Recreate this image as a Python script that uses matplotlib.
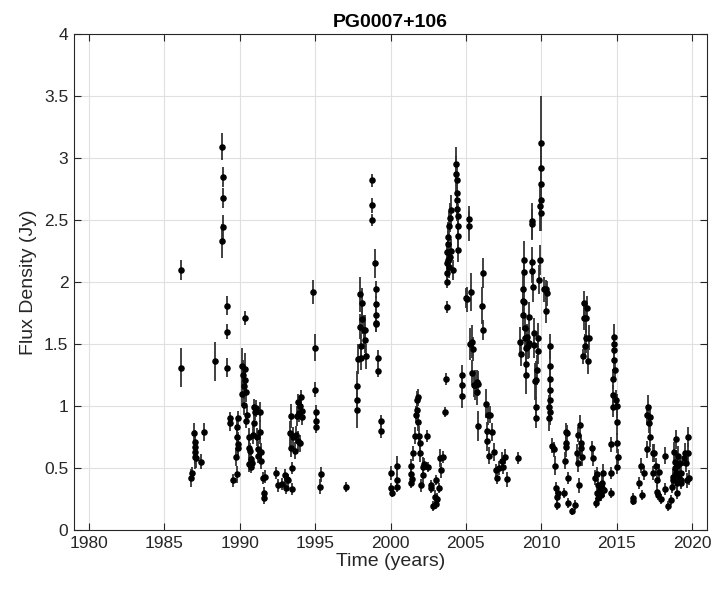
import matplotlib
matplotlib.use("Agg")
import matplotlib.pyplot as plt
from matplotlib.ticker import FuncFormatter

title = "PG0007+106"
x_label = "Time (years)"
y_label = "Flux Density (Jy)"
x_ticks = [1980, 1985, 1990, 1995, 2000, 2005, 2010, 2015, 2020]
y_ticks = [0, 0.5, 1, 1.5, 2, 2.5, 3, 3.5, 4]

# observation epochs (decimal years)
years = [
    1986.13, 1986.09, 1986.78, 1986.80, 1986.98, 1987.00, 1987.03, 1987.06, 1987.05, 1987.08, 1987.42, 1987.62,
    1988.37, 1988.85, 1988.87, 1988.89, 1988.90, 1988.84, 1989.15, 1989.13, 1989.17, 1989.36, 1989.36, 1989.53,
    1989.82, 1989.78, 1989.82, 1989.86, 1989.84, 1989.88, 1989.90,
    1990.14, 1990.20, 1990.25, 1990.17, 1990.30, 1990.37, 1990.37, 1990.44, 1990.46, 1990.44, 1990.37,
    1990.58, 1990.62, 1990.62, 1990.73, 1990.75, 1990.82, 1990.68, 1990.88, 1990.93, 1990.95, 1990.99, 1991.08,
    1991.13, 1991.20, 1991.24, 1991.33, 1991.37, 1991.40, 1991.42, 1991.52, 1991.58, 1991.63, 1991.70,
    1992.40, 1992.55, 1992.77, 1992.97, 1993.08, 1993.19, 1993.44, 1993.11,
    1993.33, 1993.42, 1993.40, 1993.46, 1993.55, 1993.64, 1993.73, 1993.77, 1993.84, 1993.88, 1993.95, 1993.99,
    1994.06, 1994.10, 1994.10, 1994.01,
    1994.88, 1995.00, 1995.02, 1995.03, 1995.05, 1995.04, 1995.35, 1995.40, 1997.05,
    1997.76, 1997.78, 1997.80, 1997.96, 1998.09, 1998.00, 1998.07, 1997.87, 1998.04, 1998.24, 1998.33, 1998.33,
    1998.35, 1998.13,
    1998.80, 1998.80, 1998.80, 1999.00, 1999.02, 1999.02, 1999.02, 1999.04, 1999.06, 1999.15, 1999.15,
    1999.37, 1999.37,
    2000.00, 2000.00, 2000.09, 2000.40, 2000.40, 2000.44,
    2001.35, 2001.37, 2001.40, 2001.37, 2001.48, 2001.64, 2001.68, 2001.73, 2001.77, 2001.82, 2001.84, 2001.88,
    2001.95, 2001.99, 2002.04, 2002.13, 2002.13, 2002.22, 2002.41, 2002.46,
    2002.66, 2002.70, 2002.81, 2002.92, 2002.99, 2003.03, 2003.08, 2003.21, 2003.30, 2003.37, 2003.46,
    2003.61, 2003.68,
    2003.74, 2003.72, 2003.74, 2003.74, 2003.77, 2003.79, 2003.83, 2003.88, 2003.92, 2003.99, 2003.81, 2003.88,
    2003.97, 2004.04, 2004.12, 2004.32, 2004.36, 2004.39, 2004.39, 2004.41, 2004.43, 2004.45, 2004.47, 2004.50,
    2004.50,
    2004.72, 2004.72, 2004.72, 2005.03, 2005.08, 2005.20, 2005.22, 2005.34,
    2005.27, 2005.42, 2005.46, 2005.40, 2005.51, 2005.62, 2005.75, 2005.82, 2005.75, 2005.82,
    2006.09, 2006.17, 2006.13,
    2006.36, 2006.49, 2006.62, 2006.40, 2006.40, 2006.53, 2006.76, 2006.87, 2007.02, 2007.07, 2007.20, 2007.38,
    2007.49, 2007.62, 2007.75, 2008.44,
    2008.62, 2008.64, 2008.79, 2008.79, 2008.81, 2008.83, 2008.83, 2008.85, 2008.90, 2008.95, 2008.97, 2009.02,
    2009.02, 2009.06, 2009.10, 2009.19, 2009.19,
    2009.37, 2009.39, 2009.39, 2009.41, 2009.46, 2009.50, 2009.52, 2009.59, 2009.63, 2009.66, 2009.68, 2009.72,
    2009.79, 2009.81, 2009.88, 2009.90, 2009.95, 2009.97, 2009.97, 2010.01, 2009.99, 2009.99, 2010.19, 2010.30,
    2010.37, 2010.35,
    2010.52, 2010.50, 2010.56, 2010.61, 2010.56, 2010.61, 2010.58, 2010.61,
    2010.74, 2010.83, 2010.90, 2010.96, 2011.05, 2011.05, 2011.12,
    2011.50, 2011.58, 2011.63, 2011.63, 2011.67, 2011.72, 2011.76, 2011.78,
    2012.03, 2012.25, 2012.38, 2012.45, 2012.53, 2012.56, 2012.47, 2012.67, 2012.72, 2012.62,
    2012.82, 2012.84, 2012.95, 2013.00, 2013.04, 2013.16, 2013.13, 2012.78, 2012.89,
    2013.40, 2013.45, 2013.55, 2013.62, 2013.67, 2013.74, 2013.89, 2014.00, 2014.11, 2014.17,
    2013.80, 2013.95, 2014.05, 2013.70,
    2014.62, 2014.66, 2014.66,
    2014.82, 2014.86, 2014.86, 2014.88, 2014.77, 2014.73, 2014.75, 2015.00, 2015.00, 2015.04, 2015.08, 2015.04,
    2014.86, 2014.95,
    2016.10, 2016.12, 2016.48, 2016.65, 2016.70, 2016.83, 2016.99, 2016.99, 2017.08, 2017.14, 2017.21, 2017.23,
    2017.39, 2017.43, 2017.50, 2017.59, 2017.65, 2017.67, 2017.76, 2017.83, 2017.92,
    2018.21, 2018.21, 2018.43, 2018.58, 2018.65, 2018.72, 2018.76, 2018.83, 2018.87, 2018.92, 2018.98, 2019.03,
    2019.12, 2019.21, 2019.25, 2019.53, 2019.60, 2019.65, 2019.71, 2019.76, 2019.78,
    2018.95, 2019.00, 2019.30, 2019.45, 2019.30, 2018.90, 2019.10,
]

# flux density (Jy)
flux = [
    2.10, 1.31, 0.42, 0.46, 0.78, 0.63, 0.59, 0.71, 0.67, 0.58, 0.55, 0.79,
    1.36, 3.09, 2.85, 2.68, 2.44, 2.33, 1.81, 1.60, 1.31, 0.90, 0.86, 0.40,
    0.45, 0.59, 0.75, 0.69, 0.83, 0.90, 0.66,
    1.32, 1.25, 1.16, 1.10, 1.01, 1.30, 1.21, 1.11, 0.93, 0.88, 1.71,
    0.75, 0.66, 0.53, 0.57, 0.51, 0.54, 0.64, 0.77, 0.86, 0.99, 0.95, 0.98,
    0.75, 0.65, 0.60, 0.79, 0.95, 0.63, 0.56, 0.42, 0.30, 0.26, 0.43,
    0.46, 0.36, 0.37, 0.44, 0.34, 0.40, 0.33, 0.41,
    0.78, 0.92, 0.66, 0.50, 0.75, 0.64, 0.77, 0.92, 1.03, 0.72, 0.94, 1.00,
    1.07, 0.91, 0.96, 0.70,
    1.92, 1.47, 1.13, 0.95, 0.88, 0.83, 0.35, 0.45, 0.35,
    1.16, 1.05, 0.97, 1.90, 1.83, 1.64, 1.48, 1.38, 1.39, 1.61, 1.61, 1.53,
    1.40, 1.70,
    2.82, 2.62, 2.50, 2.15, 1.94, 1.82, 1.73, 1.67, 1.66, 1.39, 1.28,
    0.88, 0.80,
    0.46, 0.34, 0.30, 0.52, 0.40, 0.35,
    0.52, 0.45, 0.41, 0.38, 0.62, 0.76, 0.93, 0.97, 1.05, 0.87, 1.07, 0.76,
    0.70, 0.62, 0.36, 0.51, 0.44, 0.53, 0.76, 0.51,
    0.34, 0.36, 0.19, 0.27, 0.40, 0.21, 0.25, 0.34, 0.58, 0.48, 0.59,
    0.95, 1.22,
    1.80, 2.00, 2.07, 2.15, 2.24, 2.31, 2.36, 2.45, 2.52, 2.58, 2.18, 2.12,
    2.20, 2.25, 2.10, 2.95, 2.87, 2.82, 2.72, 2.66, 2.59, 2.53, 2.45, 2.37,
    2.26,
    1.25, 1.17, 1.08, 1.87, 1.86, 2.51, 2.45, 1.92,
    1.50, 1.52, 1.46, 1.27, 1.17, 1.17, 1.19, 1.18, 1.11, 0.84,
    1.81, 2.07, 1.61,
    1.02, 0.93, 0.93, 0.80, 0.72, 0.60, 0.79, 0.63, 0.48, 0.42, 0.50, 0.56,
    0.51, 0.59, 0.41, 0.58,
    1.52, 1.42, 1.73, 1.85, 1.94, 2.08, 2.18, 1.84, 1.63, 1.55, 1.47, 1.34,
    1.25, 1.56, 1.48, 1.72, 1.51,
    2.49, 2.47, 2.16, 2.09, 1.96, 1.59, 1.49, 1.20, 0.99, 0.90, 1.21, 1.29,
    1.55, 1.44, 2.02, 2.18, 2.61, 2.56, 2.66, 2.79, 2.92, 3.12, 1.94, 1.94,
    1.91, 1.77,
    0.90, 0.99, 1.05, 1.13, 1.22, 1.48, 1.32, 0.95,
    0.68, 0.65, 0.52, 0.34, 0.27, 0.20, 0.30,
    0.30, 0.56, 0.70, 0.79, 0.67, 0.78, 0.42, 0.22,
    0.15, 0.20, 0.62, 0.77, 0.36, 0.85, 0.54, 0.66, 0.59, 0.70,
    1.83, 1.71, 1.71, 1.55, 1.79, 1.55, 1.36, 1.40, 1.48,
    0.66, 0.58, 0.42, 0.22, 0.30, 0.36, 0.32, 0.38, 0.46, 0.32,
    0.26, 0.28, 0.34, 0.45,
    0.30, 0.46, 0.69,
    1.56, 1.45, 1.37, 1.29, 1.22, 1.09, 0.99, 1.00, 0.87, 0.70, 0.59, 0.51,
    1.50, 1.05,
    0.26, 0.23, 0.38, 0.52, 0.28, 0.46, 0.65, 0.93, 0.99, 0.86, 0.75, 0.91,
    0.62, 0.46, 0.62, 0.52, 0.40, 0.31, 0.28, 0.47, 0.25,
    0.33, 0.60, 0.19, 0.24, 0.35, 0.43, 0.40, 0.63, 0.55, 0.46, 0.38, 0.52,
    0.42, 0.54, 0.40, 0.62, 0.54, 0.40, 0.75, 0.62, 0.42,
    0.73, 0.30, 0.46, 0.58, 0.38, 0.50, 0.60,
]

# 1-sigma uncertainties (Jy)
err = [
    0.08, 0.16, 0.07, 0.05, 0.08, 0.10, 0.10, 0.10, 0.08, 0.08, 0.06, 0.07,
    0.16, 0.11, 0.08, 0.08, 0.10, 0.14, 0.08, 0.06, 0.08, 0.05, 0.06, 0.05,
    0.07, 0.07, 0.07, 0.10, 0.08, 0.06, 0.08,
    0.15, 0.12, 0.10, 0.10, 0.08, 0.13, 0.12, 0.08, 0.07, 0.06, 0.06,
    0.07, 0.07, 0.06, 0.06, 0.05, 0.06, 0.06, 0.08, 0.09, 0.07, 0.06, 0.07,
    0.07, 0.07, 0.06, 0.10, 0.08, 0.07, 0.07, 0.05, 0.05, 0.05, 0.05,
    0.05, 0.05, 0.05, 0.05, 0.05, 0.05, 0.05, 0.04,
    0.10, 0.10, 0.07, 0.05, 0.08, 0.07, 0.07, 0.08, 0.07, 0.08, 0.07, 0.07,
    0.06, 0.06, 0.06, 0.07,
    0.10, 0.11, 0.06, 0.06, 0.05, 0.05, 0.06, 0.06, 0.04,
    0.12, 0.10, 0.15, 0.14, 0.12, 0.10, 0.10, 0.12, 0.10, 0.12, 0.12, 0.10,
    0.10, 0.12,
    0.05, 0.06, 0.05, 0.12, 0.07, 0.07, 0.07, 0.07, 0.06, 0.06, 0.05,
    0.05, 0.06,
    0.06, 0.04, 0.03, 0.08, 0.05, 0.04,
    0.05, 0.06, 0.05, 0.04, 0.06, 0.07, 0.07, 0.07, 0.07, 0.07, 0.07, 0.08,
    0.07, 0.07, 0.05, 0.08, 0.06, 0.05, 0.05, 0.04,
    0.04, 0.04, 0.04, 0.05, 0.04, 0.04, 0.05, 0.04, 0.07, 0.06, 0.05,
    0.04, 0.05,
    0.05, 0.05, 0.06, 0.07, 0.08, 0.10, 0.12, 0.12, 0.12, 0.12, 0.08, 0.09,
    0.10, 0.10, 0.08, 0.14, 0.15, 0.12, 0.12, 0.12, 0.10, 0.10, 0.12, 0.14,
    0.10,
    0.08, 0.10, 0.10, 0.08, 0.10, 0.10, 0.12, 0.15,
    0.13, 0.13, 0.10, 0.10, 0.10, 0.12, 0.10, 0.10, 0.10, 0.12,
    0.15, 0.12, 0.08,
    0.12, 0.08, 0.07, 0.07, 0.08, 0.07, 0.07, 0.07, 0.05, 0.05, 0.06, 0.07,
    0.06, 0.06, 0.06, 0.05,
    0.12, 0.10, 0.12, 0.10, 0.12, 0.12, 0.15, 0.10, 0.10, 0.10, 0.10, 0.12,
    0.15, 0.10, 0.10, 0.12, 0.12,
    0.15, 0.12, 0.12, 0.10, 0.12, 0.12, 0.10, 0.15, 0.08, 0.08, 0.15, 0.12,
    0.12, 0.10, 0.12, 0.12, 0.20, 0.15, 0.15, 0.15, 0.20, 0.38, 0.10, 0.08,
    0.10, 0.10,
    0.10, 0.10, 0.12, 0.12, 0.12, 0.10, 0.12, 0.10,
    0.06, 0.06, 0.08, 0.05, 0.05, 0.04, 0.05,
    0.04, 0.07, 0.07, 0.07, 0.08, 0.07, 0.05, 0.04,
    0.03, 0.04, 0.07, 0.06, 0.06, 0.08, 0.07, 0.08, 0.07, 0.07,
    0.10, 0.10, 0.12, 0.12, 0.10, 0.10, 0.10, 0.06, 0.10,
    0.06, 0.06, 0.06, 0.04, 0.05, 0.05, 0.05, 0.06, 0.07, 0.05,
    0.04, 0.05, 0.05, 0.06,
    0.04, 0.05, 0.06,
    0.10, 0.10, 0.10, 0.10, 0.08, 0.08, 0.08, 0.10, 0.10, 0.08, 0.06, 0.06,
    0.08, 0.08,
    0.04, 0.03, 0.05, 0.06, 0.04, 0.06, 0.07, 0.08, 0.10, 0.08, 0.08, 0.08,
    0.07, 0.06, 0.07, 0.06, 0.05, 0.05, 0.04, 0.06, 0.04,
    0.05, 0.07, 0.04, 0.04, 0.05, 0.06, 0.06, 0.08, 0.07, 0.07, 0.06, 0.07,
    0.06, 0.07, 0.06, 0.08, 0.07, 0.06, 0.08, 0.08, 0.06,
    0.08, 0.05, 0.07, 0.06, 0.05, 0.08, 0.08,
]

plt.rcParams['font.family'] = ['Liberation Sans', 'DejaVu Sans']

fig = plt.figure(figsize=(7.15, 5.93), dpi=100)
ax = fig.add_axes([74 / 715, 63 / 593, 633 / 715, 496 / 593])

ax.errorbar(years, flux, yerr=err, fmt='o', color='black', ms=3.7,
            ecolor='#333333', elinewidth=1.3, capsize=0, zorder=3)

ax.set_xlim(1979, 2021)
ax.set_ylim(0, 4)
ax.set_xticks(x_ticks)
ax.set_yticks(y_ticks)
ax.yaxis.set_major_formatter(FuncFormatter(lambda v, p: f"{v:g}"))
ax.grid(True, color='#e0e0e0', linewidth=0.8)
ax.set_axisbelow(True)
for s in ax.spines.values():
    s.set_color('#262626')
    s.set_linewidth(0.8)
ax.tick_params(direction='in', length=5, width=0.8, colors='#262626',
               labelsize=12.5, top=True, right=True, pad=4)
for lbl in ax.get_xticklabels() + ax.get_yticklabels():
    lbl.set_color('#262626')

ax.set_xlabel(x_label, fontsize=14, color='#262626', labelpad=2)
ax.set_ylabel(y_label, fontsize=14, color='#262626', labelpad=5)
ax.set_title(title, fontsize=14, fontweight='bold', color='black', pad=5)

fig.savefig("out.png", dpi=100)
